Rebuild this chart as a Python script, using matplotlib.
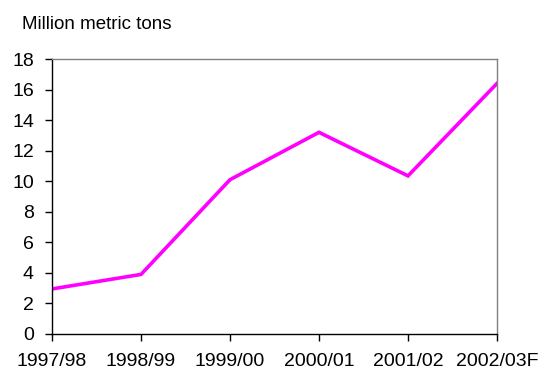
import matplotlib
matplotlib.use("Agg")
import matplotlib.pyplot as plt

years = ["1997/98", "1998/99", "1999/00", "2000/01", "2001/02", "2002/03F"]
values = [2.95, 3.9, 10.1, 13.2, 10.35, 16.4]
yticks = [0, 2, 4, 6, 8, 10, 12, 14, 16, 18]

plt.rcParams['font.family'] = ['Liberation Sans', 'DejaVu Sans']

fig = plt.figure(figsize=(5.41, 3.75), dpi=100)
ax = fig.add_axes([52/541, 1-334/375, (497-52)/541, (334-59)/375])
x = list(range(len(years)))
ax.plot(x, values, color="#FF00FF", linewidth=2.6, solid_joinstyle="miter")
ax.set_xlim(0, len(years)-1)
ax.set_ylim(0, 18)
ax.set_yticks(yticks)
ax.set_yticklabels([str(v) for v in yticks], fontsize=14)
ax.set_xticks(x)
ax.set_xticklabels(years, fontsize=14)
ax.tick_params(axis='y', direction='out', length=5, width=1, pad=8)
ax.tick_params(axis='x', direction='out', length=5, width=1, pad=9)
for s in ['left', 'bottom']:
    ax.spines[s].set_color('black')
    ax.spines[s].set_linewidth(1)
for s in ['top', 'right']:
    ax.spines[s].set_color('#808080')
    ax.spines[s].set_linewidth(1)
fig.text(22/541, 1-29/375, "Million metric tons", fontsize=13.5, ha='left', va='baseline')
fig.savefig("out.png", dpi=100)
